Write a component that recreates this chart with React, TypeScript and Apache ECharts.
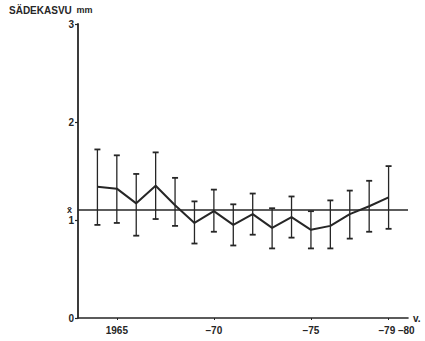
import React, { useEffect, useRef } from "react";
import * as echarts from "echarts";

const years = [1964, 1965, 1966, 1967, 1968, 1969, 1970, 1971, 1972, 1973, 1974, 1975, 1976, 1977, 1978, 1979];
const means = [1.34, 1.32, 1.17, 1.35, 1.15, 0.97, 1.09, 0.95, 1.06, 0.92, 1.03, 0.9, 0.94, 1.06, 1.14, 1.23];
const highs = [1.72, 1.66, 1.47, 1.69, 1.43, 1.19, 1.31, 1.16, 1.27, 1.12, 1.24, 1.09, 1.2, 1.3, 1.4, 1.55];
const lows = [0.95, 0.97, 0.84, 1.01, 0.94, 0.76, 0.88, 0.74, 0.85, 0.71, 0.82, 0.71, 0.71, 0.81, 0.88, 0.91];
const overallMean = 1.105;
const xTickValues = [1965, 1970, 1975, 1979];
const xTickLabels: Record<number, string> = { 1965: "1965", 1970: "–70", 1975: "–75", 1979: "{s|–79 –80}" };

const INK = "#262626";
const FONT = "Liberation Sans, Arial, sans-serif";

export default function App() {
  const ref = useRef<HTMLDivElement>(null);
  useEffect(() => {
    const chart = echarts.init(ref.current!, null, { renderer: "svg" });
    chart.setOption({
      animation: false,
      backgroundColor: "#ffffff",
      textStyle: { fontFamily: FONT },
      title: {
        text: "SÄDEKASVU {m|mm}",
        left: 9,
        top: 4,
        padding: 0,
        textStyle: {
          fontSize: 10,
          fontWeight: "bold",
          color: INK,
          fontFamily: FONT,
          lineHeight: 12,
          rich: { m: { fontSize: 9, fontWeight: "bold", color: INK, fontFamily: FONT, lineHeight: 12, padding: [0, 0, 0, 2] } },
        },
      },
      grid: { left: 78, right: 17, top: 24, bottom: 23, containLabel: false },
      xAxis: {
        type: "value",
        min: 1963,
        max: 1980,
        name: "v.",
        nameLocation: "end",
        nameGap: 5,
        nameTextStyle: { color: INK, fontSize: 10, fontWeight: "bold", fontFamily: FONT },
        splitLine: { show: false },
        axisLine: { show: true, lineStyle: { color: INK, width: 1.6 } },
        axisTick: { show: true, customValues: xTickValues, length: 2, lineStyle: { color: INK, width: 1 } },
        axisLabel: {
          customValues: xTickValues,
          color: INK,
          fontSize: 10,
          fontWeight: "bold",
          fontFamily: FONT,
          margin: 7,
          formatter: (v: number) => xTickLabels[v] ?? "",
          rich: { s: { fontSize: 10, fontWeight: "bold", color: INK, fontFamily: FONT, padding: [0, 0, 0, 16] } },
        },
      },
      yAxis: {
        type: "value",
        min: 0,
        max: 3,
        interval: 1,
        splitLine: { show: false },
        axisLine: { show: true, lineStyle: { color: INK, width: 1.8 } },
        axisTick: { show: true, length: 3, lineStyle: { color: INK, width: 1.2 } },
        axisLabel: { color: INK, fontSize: 10, fontWeight: "bold", fontFamily: FONT, margin: 4 },
      },
      series: [
        {
          type: "custom",
          data: years.map((y, i) => [y, lows[i], highs[i]]),
          renderItem: (params: any, api: any) => {
            const x = api.value(0);
            const lo = api.coord([x, api.value(1)]);
            const hi = api.coord([x, api.value(2)]);
            const w = 3;
            const style = { stroke: INK, lineWidth: 1.3 };
            return {
              type: "group",
              children: [
                { type: "line", shape: { x1: lo[0], y1: lo[1], x2: hi[0], y2: hi[1] }, style },
                { type: "line", shape: { x1: hi[0] - w, y1: hi[1], x2: hi[0] + w, y2: hi[1] }, style: { stroke: INK, lineWidth: 1.8 } },
                { type: "line", shape: { x1: lo[0] - w, y1: lo[1], x2: lo[0] + w, y2: lo[1] }, style: { stroke: INK, lineWidth: 1.8 } },
              ],
            };
          },
          z: 2,
        },
        {
          type: "line",
          data: years.map((y, i) => [y, means[i]]),
          symbol: "none",
          lineStyle: { color: INK, width: 2 },
          z: 3,
          markLine: {
            silent: true,
            symbol: "none",
            data: [{ yAxis: overallMean }],
            lineStyle: { color: INK, width: 1.6, type: "solid" },
            label: {
              show: true,
              position: "start",
              formatter: "x̄",
              color: INK,
              fontSize: 9,
              fontWeight: "bold",
              fontFamily: FONT,
              distance: 6,
            },
          },
        },
      ],
    });
    return () => chart.dispose();
  }, []);
  return <div ref={ref} style={{ position: "fixed", left: 0, top: 0, width: 425, height: 341 }} />;
}
